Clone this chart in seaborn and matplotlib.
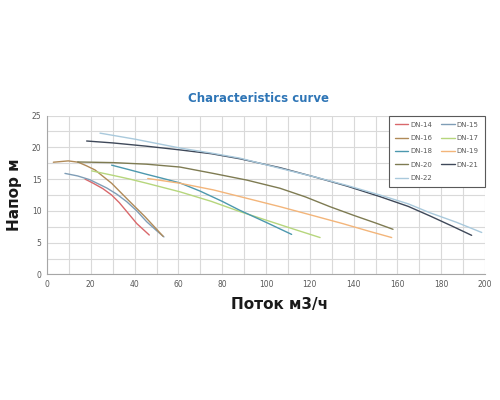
import matplotlib
matplotlib.use("Agg")
import matplotlib.pyplot as plt
from matplotlib.ticker import MultipleLocator
import seaborn as sns
import pandas as pd

# ---- data ----
dn14_x = [17.4, 21.1, 25.5, 29.5, 33.0, 36.4, 41.0, 46.7]
dn14_y = [15.0, 14.35, 13.5, 12.5, 11.3, 9.9, 8.0, 6.2]
dn15_x = [8.2, 14.0, 19.6, 27.3, 32.0, 36.4, 41.0, 45.5, 50.0, 53.4]
dn15_y = [15.9, 15.5, 14.9, 13.6, 12.6, 11.45, 10.0, 8.3, 6.9, 5.9]
dn16_x = [2.9, 9.7, 14.3, 18.0, 21.9, 29.5, 37.1, 44.7, 49.0, 53.0]
dn16_y = [17.66, 17.87, 17.66, 17.1, 16.45, 14.35, 11.7, 9.1, 7.5, 6.0]
dn17_x = [20.4, 30.0, 37.9, 45.5, 60.7, 75.0, 88.0, 100.0, 112.0, 124.7]
dn17_y = [16.3, 15.6, 15.0, 14.35, 13.0, 11.5, 9.9, 8.55, 7.2, 5.8]
dn18_x = [29.5, 37.9, 45.0, 53.0, 60.7, 70.0, 80.0, 88.0, 100.0, 111.7]
dn18_y = [17.2, 16.45, 15.8, 15.1, 14.4, 13.1, 11.5, 10.1, 8.2, 6.3]
dn19_x = [46.0, 60.7, 76.0, 91.0, 106.4, 120.0, 135.0, 147.0, 157.4]
dn19_y = [15.1, 14.35, 13.3, 12.0, 10.66, 9.4, 8.0, 6.8, 5.8]
dn20_x = [14.0, 30.0, 45.5, 60.7, 75.9, 91.2, 106.4, 118.0, 129.2, 140.0, 150.0, 158.0]
dn20_y = [17.7, 17.6, 17.35, 16.9, 15.9, 14.85, 13.56, 12.2, 10.66, 9.3, 8.1, 7.1]
dn21_x = [18.1, 30.0, 45.0, 60.7, 75.0, 88.1, 106.4, 121.6, 137.0, 152.0, 165.0, 174.9, 185.0, 193.9]
dn21_y = [21.0, 20.7, 20.2, 19.6, 19.0, 18.2, 16.8, 15.4, 13.9, 12.25, 10.7, 9.2, 7.6, 6.15]
dn22_x = [24.2, 40.0, 60.7, 75.0, 88.1, 106.4, 121.6, 137.0, 152.0, 165.0, 174.9, 187.0, 198.5]
dn22_y = [22.24, 21.3, 19.9, 19.1, 18.3, 16.7, 15.4, 14.0, 12.5, 11.1, 9.7, 8.2, 6.6]

series_names = ["DN-14", "DN-15", "DN-16", "DN-17", "DN-18",
                "DN-19", "DN-20", "DN-21", "DN-22"]
series_x = [dn14_x, dn15_x, dn16_x, dn17_x, dn18_x, dn19_x, dn20_x, dn21_x, dn22_x]
series_y = [dn14_y, dn15_y, dn16_y, dn17_y, dn18_y, dn19_y, dn20_y, dn21_y, dn22_y]

title = "Characteristics curve"
x_label = "Поток м3/ч"
y_label = "Напор м"

colors = {
    "DN-14": "#D9686B",
    "DN-15": "#7F9DB6",
    "DN-16": "#B08A58",
    "DN-17": "#B6D67C",
    "DN-18": "#4C98AE",
    "DN-19": "#F3B57A",
    "DN-20": "#7E7B52",
    "DN-21": "#3E4859",
    "DN-22": "#A9C9DC",
}

rows = []
for name, xs, ys in zip(series_names, series_x, series_y):
    for i, (xv, yv) in enumerate(zip(xs, ys)):
        rows.append({"series": name, "flow": xv, "head": yv, "order": i})
df = pd.DataFrame(rows)

sns.set_theme(style="white")
plt.rcParams["font.family"] = ["DejaVu Sans"]

fig = plt.figure(figsize=(5, 4), dpi=100)
ax = fig.add_axes([0.094, 0.314, 0.876, 0.397])

sns.lineplot(data=df, x="flow", y="head", hue="series", hue_order=series_names,
             palette=colors, sort=False, estimator=None, units="series",
             linewidth=1.0, ax=ax, legend=True)

ax.set_xlim(0, 200)
ax.set_ylim(0, 25)
ax.xaxis.set_major_locator(MultipleLocator(20))
ax.xaxis.set_minor_locator(MultipleLocator(10))
ax.yaxis.set_major_locator(MultipleLocator(5))
ax.yaxis.set_minor_locator(MultipleLocator(2.5))
ax.grid(True, which="both", color="#D9D9D9", linewidth=0.8)
ax.set_axisbelow(True)
ax.tick_params(which="both", length=0, labelsize=5.5, colors="#595959", pad=4)
for side in ["top", "right"]:
    ax.spines[side].set_visible(False)
for side in ["left", "bottom"]:
    ax.spines[side].set_color("#A6A6A6")
    ax.spines[side].set_linewidth(0.8)

ax.set_xlabel(x_label, fontsize=11, fontweight="bold", color="#1A1A1A")
ax.xaxis.set_label_coords(0.53, -0.14)
ax.set_ylabel(y_label, fontsize=11, fontweight="bold", color="#1A1A1A")
ax.yaxis.set_label_coords(-0.057, 0.5)

fig.text(0.516, 0.755, title, ha="center", va="center", fontsize=8.5,
         fontweight="bold", color="#2E75B6")

handles, labels = ax.get_legend_handles_labels()
order = [0, 2, 4, 6, 8, 1, 3, 5, 7]
handles = [handles[i] for i in order]
labels = [labels[i] for i in order]
leg = ax.legend(handles, labels, ncol=2, loc="upper right",
                bbox_to_anchor=(1.0, 1.0), borderaxespad=0.0, fontsize=5,
                frameon=True, fancybox=False, edgecolor="#595959", framealpha=1,
                handlelength=1.9, columnspacing=1.3, labelspacing=1.05,
                borderpad=0.9, handletextpad=0.3)
leg.get_frame().set_linewidth(0.8)
for t in leg.get_texts():
    t.set_color("#595959")

fig.savefig("out.png", dpi=100, facecolor="white")
